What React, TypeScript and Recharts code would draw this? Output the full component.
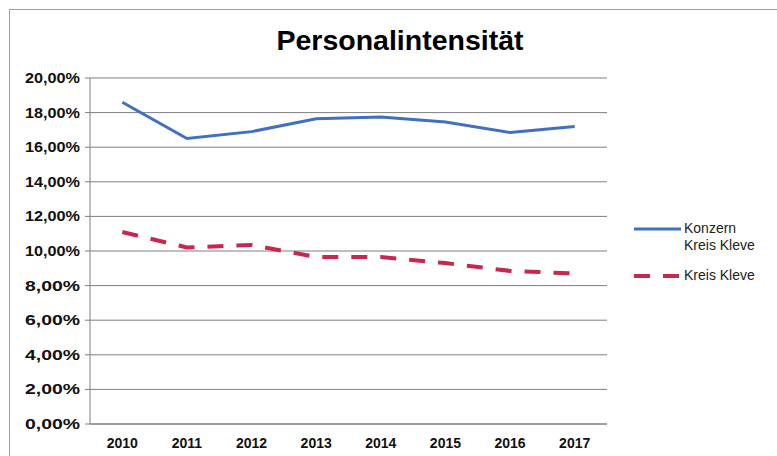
import { LineChart, Line, XAxis, YAxis, CartesianGrid } from 'recharts'

const years = ['2010', '2011', '2012', '2013', '2014', '2015', '2016', '2017']
const konzern = [18.6, 16.5, 16.9, 17.65, 17.75, 17.45, 16.85, 17.2]
const kreis = [11.1, 10.2, 10.35, 9.65, 9.65, 9.3, 8.85, 8.7]
const yTicks = [0, 2, 4, 6, 8, 10, 12, 14, 16, 18, 20]

const data = years.map((y, i) => ({ idx: i, year: y, konzern: konzern[i], kreis: kreis[i] }))
const boundaryTicks = years.map((_, i) => i - 0.5).concat([years.length - 0.5])

const BLUE = '#4170C0'
const RED = '#C8284F'
const font = '"Liberation Sans", Arial, sans-serif'

function fmtPct(v: number) {
  return v.toFixed(2).replace('.', ',') + '%'
}

// y labels look a bit stretched in the original, so force their width
function YTick(props: any) {
  const { x, y, payload } = props
  return (
    <text x={x} y={y} dy={5} textAnchor="end" fill="#111" fontSize={14} fontWeight="bold" fontFamily={font}
      textLength={55} lengthAdjust="spacingAndGlyphs">
      {fmtPct(payload.value)}
    </text>
  )
}

function LegendBox() {
  return (
    <div style={{ position: 'absolute', left: 632, top: 220, fontFamily: font, fontSize: 14, color: '#222', lineHeight: '17px' }}>
      <div style={{ display: 'flex', alignItems: 'flex-start' }}>
        <svg width={52} height={17}>
          <line x1={2} y1={9} x2={49} y2={9} stroke={BLUE} strokeWidth={3} />
        </svg>
        <div>Konzern<br />Kreis Kleve</div>
      </div>
      <div style={{ display: 'flex', alignItems: 'flex-start', marginTop: 13 }}>
        <svg width={52} height={17}>
          <line x1={2} y1={9} x2={49} y2={9} stroke={RED} strokeWidth={4} strokeDasharray="16 13" />
        </svg>
        <div>Kreis Kleve</div>
      </div>
    </div>
  )
}

export default function App() {
  return (
    <div style={{ position: 'absolute', left: 0, top: 0, width: 777, height: 456, background: '#fff', overflow: 'hidden' }}>
      <div style={{ position: 'absolute', left: 9, top: 9, width: 800, height: 500, border: '1px solid #a0a0a0' }} />
      <div style={{ position: 'absolute', left: 90, width: 620, top: 24, textAlign: 'center', fontFamily: font, fontWeight: 'bold', fontSize: 28.5, color: '#000' }}>
        Personalintensität
      </div>
      <LineChart width={777} height={456} data={data} margin={{ top: 78, right: 170, bottom: 2, left: 10 }} style={{ position: 'absolute', left: 0, top: 0 }}>
        <CartesianGrid vertical={false} stroke="#7f7f7f" strokeWidth={1} />
        <XAxis
          dataKey="idx"
          type="number"
          domain={[-0.5, years.length - 0.5]}
          ticks={years.map((_, i) => i)}
          tickFormatter={(v: number) => years[v] ?? ''}
          tickLine={false}
          axisLine={{ stroke: '#7f7f7f' }}
          height={30}
          tick={{ fill: '#111', fontSize: 14, fontWeight: 'bold', fontFamily: font }}
          tickMargin={8}
        />
        <XAxis
          xAxisId="b"
          dataKey="idx"
          type="number"
          domain={[-0.5, years.length - 0.5]}
          ticks={boundaryTicks}
          tick={false}
          tickLine={{ stroke: '#7f7f7f' }}
          tickSize={5}
          axisLine={false}
          height={0}
        />
        <YAxis
          domain={[0, 20]}
          ticks={yTicks}
          width={80}
          axisLine={{ stroke: '#7f7f7f' }}
          tickLine={{ stroke: '#7f7f7f' }}
          tickSize={5}
          tick={<YTick />}
          tickMargin={5}
        />
        <Line dataKey="konzern" stroke={BLUE} strokeWidth={3} dot={false} isAnimationActive={false} />
        <Line dataKey="kreis" stroke={RED} strokeWidth={4} strokeDasharray="16 13" dot={false} isAnimationActive={false} />
      </LineChart>
      <LegendBox />
    </div>
  )
}
